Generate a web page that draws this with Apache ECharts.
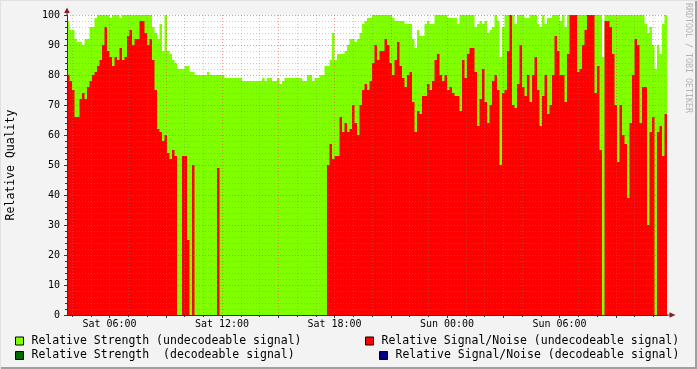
<!DOCTYPE html>
<html><head><meta charset="utf-8">
<script src="https://cdn.jsdelivr.net/npm/echarts@6/dist/echarts.min.js"></script>
<style>html,body{margin:0;padding:0;background:#F3F3F3;} #c{width:697px;height:369px;}</style>
</head><body><div id="c"></div>
<script>
// time axis: first sample Sat 03:44, one value every 8 minutes
const startMinute = 3 * 60 + 44;
const sampleMinutes = 8;
const timeTickLabels = ['Sat 06:00', 'Sat 12:00', 'Sat 18:00', 'Sun 00:00', 'Sun 06:00'];

// Relative Strength (undecodeable signal)
const strength = [
  98,95,95,92,91,91,90,92,92,96,
  96,99,100,100,100,100,100,99,100,100,
  100,99,100,100,100,100,100,100,100,100,
  100,100,100,100,96,94,92,97,88,100,
  88,87,85,84,82,82,82,83,83,81,
  81,80,80,80,80,80,81,80,80,80,
  80,80,80,79,79,79,79,79,79,79,
  78,78,78,78,78,78,78,78,79,78,
  79,79,78,78,79,77,78,79,79,79,
  79,79,79,79,78,78,80,80,78,79,
  79,80,80,83,83,85,94,85,87,87,
  87,88,90,92,92,91,92,94,97,98,
  99,99,100,100,100,100,100,100,100,100,
  99,98,98,98,98,97,97,97,92,89,
  95,93,93,97,98,97,97,100,100,100,
  100,100,99,99,99,99,97,100,100,100,
  100,100,100,96,97,98,97,98,94,95,
  96,100,98,86,96,100,100,100,100,97,
  100,100,100,99,99,100,100,100,97,96,
  100,97,99,99,100,100,100,98,100,96,
  100,100,100,100,100,100,100,100,100,100,
  100,100,100,100,86,100,100,100,100,100,
  100,100,100,100,100,100,100,100,100,100,
  100,97,94,96,90,82,90,87,97,100
];

// Relative Signal/Noise (undecodeable signal)
const snr = [
  80,78,75,66,66,72,74,72,76,78,
  80,81,83,85,90,96,88,86,83,86,
  85,89,85,86,93,95,90,92,92,98,
  98,94,90,92,85,75,62,61,58,60,
  54,52,55,53,0,0,53,53,25,0,
  50,0,0,0,0,0,0,0,0,0,
  49,0,0,0,0,0,0,0,0,0,
  0,0,0,0,0,0,0,0,0,0,
  0,0,0,0,0,0,0,0,0,0,
  0,0,0,0,0,0,0,0,0,0,
  0,0,0,0,50,57,52,53,53,66,
  61,64,61,62,70,64,60,70,75,77,
  75,78,84,90,85,88,88,92,90,84,
  80,85,91,83,79,76,80,81,71,61,
  68,67,73,73,77,75,78,85,87,80,
  78,80,75,76,74,73,73,68,85,79,
  87,89,89,81,63,72,82,71,64,70,
  78,80,75,50,74,75,88,100,70,69,
  77,90,76,73,80,71,80,86,75,63,
  73,80,67,70,80,93,88,80,80,71,
  87,100,100,100,81,82,90,95,100,100,
  100,74,83,55,0,98,98,96,87,70,
  51,70,60,57,39,64,80,92,90,64,
  76,76,30,61,66,0,61,63,53,67
];

const strengthDecodeable = [];
const snrDecodeable = [];

const names = [
  'Relative Strength (undecodeable signal)',
  'Relative Strength  (decodeable signal)',
  'Relative Signal/Noise (undecodeable signal)',
  'Relative Signal/Noise (decodeable signal)'
];
const colors = ['#7FFF00', '#006600', '#FF0000', '#000080'];

// build 4-minute category axis (two categories per sample)
const sub = 2;
const catMinutes = sampleMinutes / sub;
const nCat = strength.length * sub + 1;
const cats = [], catMin = [];
for (let i = 0; i < nCat; i++) {
  const m = startMinute + i * catMinutes;
  const day = m >= 1440 ? 'Sun' : 'Sat';
  const mm = m % 1440;
  const hh = String(Math.floor(mm / 60)).padStart(2, '0');
  const mi = String(mm % 60).padStart(2, '0');
  cats.push(day + ' ' + hh + ':' + mi);
  catMin.push(m);
}
function expand(arr) {
  const out = [];
  arr.forEach(v => { for (let s = 0; s < sub; s++) out.push(v); });
  out.push(arr[arr.length - 1]);
  return out;
}
const isMajor = i => catMin[i] % 180 === 0;
const isMinor = i => catMin[i] % 60 === 0 && !isMajor(i);
const isLabel = i => timeTickLabels.indexOf(cats[i]) >= 0;

const font = 'DejaVu Sans Mono';
const axisColor = '#333344';
const arrowColor = '#8E1C1C';

const legendItem = (idx, left, top) => ({
  show: true, left: left, top: top, padding: 0, orient: 'horizontal',
  selectedMode: false, icon: 'rect', itemWidth: 8, itemHeight: 8,
  data: [{ name: names[idx], itemStyle: { color: colors[idx], borderColor: '#000', borderWidth: 1 } }],
  textStyle: { fontFamily: font, fontSize: 11.5, color: '#000', padding: [0, 0, 0, 3] }
});

const chart = echarts.init(document.getElementById('c'), null, { renderer: 'canvas' });
chart.setOption({
  backgroundColor: '#F3F3F3',
  animation: false,
  grid: { left: 67, right: 30, top: 15, bottom: 54, show: true, backgroundColor: '#FFFFFF', borderWidth: 0 },
  legend: [
    legendItem(0, 15, 335),
    legendItem(1, 15, 349.5),
    legendItem(2, 365, 335),
    legendItem(3, 379, 349.5)
  ],
  xAxis: [
    {
      type: 'category', data: cats, boundaryGap: false, z: 3,
      axisLine: { show: true, lineStyle: { color: axisColor, width: 1 } },
      axisTick: { show: true, length: 3, interval: i => isMajor(i), lineStyle: { color: axisColor } },
      axisLabel: { show: true, interval: i => isLabel(i), margin: 4, fontFamily: font, fontSize: 10, color: '#000' },
      splitLine: { show: true, interval: i => isMajor(i), lineStyle: { color: 'rgba(235,70,70,0.55)', width: 1, type: [1, 2] } }
    },
    {
      type: 'category', data: cats, boundaryGap: false, z: 3, position: 'bottom',
      axisLine: { show: false },
      axisTick: { show: true, length: 2, interval: i => isMinor(i), lineStyle: { color: axisColor } },
      axisLabel: { show: false },
      splitLine: { show: true, interval: i => isMinor(i), lineStyle: { color: 'rgba(130,130,130,0.4)', width: 1, type: [1, 2] } }
    }
  ],
  yAxis: {
    type: 'value', min: 0, max: 100, interval: 10, z: 3,
    axisLine: { show: true, lineStyle: { color: axisColor, width: 1 } },
    axisTick: { show: true, length: 3, lineStyle: { color: axisColor } },
    minorTick: { show: true, splitNumber: 5, length: 2, lineStyle: { color: axisColor } },
    axisLabel: { margin: 7, fontFamily: font, fontSize: 10, color: '#000' },
    splitLine: { show: true, lineStyle: { color: 'rgba(235,70,70,0.55)', width: 1, type: [1, 2] } },
    minorSplitLine: { show: true, lineStyle: { color: 'rgba(130,130,130,0.4)', width: 1, type: [1, 2] } }
  },
  series: [
    { name: names[0], type: 'line', step: 'end', data: expand(strength), symbol: 'none', silent: true, z: 1,
      lineStyle: { width: 0, opacity: 0 }, itemStyle: { color: colors[0] }, areaStyle: { color: colors[0], opacity: 1 } },
    { name: names[1], type: 'line', data: strengthDecodeable, symbol: 'none', itemStyle: { color: colors[1] } },
    { name: names[2], type: 'line', step: 'end', data: expand(snr), symbol: 'none', silent: true, z: 2,
      lineStyle: { width: 0, opacity: 0 }, itemStyle: { color: colors[2] }, areaStyle: { color: colors[2], opacity: 1 } },
    { name: names[3], type: 'line', data: snrDecodeable, symbol: 'none', itemStyle: { color: colors[3] } }
  ],
  graphic: [
    { type: 'text', x: 11, y: 165, rotation: Math.PI / 2,
      style: { text: 'Relative Quality', fontFamily: font, fontSize: 11.5, fill: '#000', textAlign: 'center', textVerticalAlign: 'middle' } },
    { type: 'text', x: 688, y: 3, rotation: -Math.PI / 2,
      style: { text: 'RRDTOOL / TOBI OETIKER', fontFamily: font, fontSize: 8.3, fill: '#B4B4B4', textAlign: 'left', textVerticalAlign: 'middle' } },
    { type: 'line', shape: { x1: 67, y1: 15, x2: 67, y2: 10 }, style: { stroke: axisColor, lineWidth: 1 }, z: 10 },
    { type: 'line', shape: { x1: 667, y1: 315, x2: 672, y2: 315 }, style: { stroke: axisColor, lineWidth: 1 }, z: 10 },
    { type: 'polygon', shape: { points: [[67, 7.5], [64.2, 13], [69.8, 13]] }, style: { fill: arrowColor }, z: 10 },
    { type: 'polygon', shape: { points: [[675.5, 315], [669.5, 312.2], [669.5, 317.8]] }, style: { fill: arrowColor }, z: 10 },
    { type: 'rect', shape: { x: 695, y: 0, width: 2, height: 369 }, style: { fill: '#A0A0A0' }, z: 10 },
    { type: 'rect', shape: { x: 0, y: 367, width: 697, height: 2 }, style: { fill: '#A0A0A0' }, z: 10 },
    { type: 'rect', shape: { x: 0, y: 0, width: 697, height: 1 }, style: { fill: '#E0E0E0' }, z: 10 },
    { type: 'rect', shape: { x: 0, y: 0, width: 1, height: 369 }, style: { fill: '#E0E0E0' }, z: 10 }
  ]
});
</script></body></html>
